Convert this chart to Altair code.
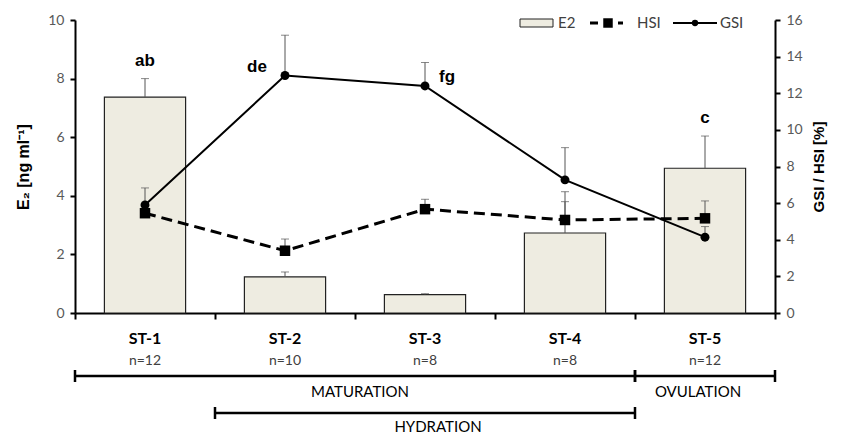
import altair as alt
import pandas as pd

stages = ["ST-1", "ST-2", "ST-3", "ST-4", "ST-5"]
n_labels = ["n=12", "n=10", "n=8", "n=8", "n=12"]
e2 = [7.37, 1.23, 0.63, 2.73, 4.94]
e2_err = [0.63, 0.17, 0.03, 1.41, 1.10]
hsi = [5.45, 3.40, 5.67, 5.08, 5.17]
hsi_err = [0.25, 0.64, 0.54, 1.00, 0.95]
gsi = [5.90, 12.97, 12.40, 7.27, 4.14]
gsi_err = [0.93, 2.20, 1.28, 1.76, 0.58]
letters = ["ab", "de", "fg", "", "c"]

phase_names = ["MATURATION", "OVULATION", "HYDRATION"]
phase_start = ["ST-1", "ST-5", "ST-2"]
phase_end = ["ST-4", "ST-5", "ST-4"]
phase_label_at = ["ST-3", "ST-5", "ST-3"]
phase_row = [0, 0, 1]
legend_labels = ["E2", "HSI", "GSI"]

df = pd.DataFrame({
    "stage": stages, "n": n_labels, "e2": e2, "e2_err": e2_err,
    "hsi": hsi, "hsi_err": hsi_err, "gsi": gsi, "gsi_err": gsi_err,
    "letter": letters,
})
df["e2_hi"] = df["e2"] + df["e2_err"]
df["hsi_hi"] = df["hsi"] + df["hsi_err"]
df["gsi_hi"] = df["gsi"] + df["gsi_err"]

ph = pd.DataFrame({"name": phase_names, "start": phase_start, "end": phase_end,
                   "at": phase_label_at, "row": phase_row})

LABEL_FONT = "Lato"
BOLD_FONT = "Liberation Sans"
GRAY = "#595959"

xscale = alt.Scale(domain=stages, paddingInner=0, paddingOuter=0)
xaxis = alt.Axis(labels=False, title=None, domainColor="black", domainWidth=2,
                 tickColor="black", tickWidth=2, tickSize=6, tickBand="extent", grid=False)
X = alt.X("stage:N", sort=stages, scale=xscale, axis=xaxis)

lscale = alt.Scale(domain=[0, 10])
rscale = alt.Scale(domain=[0, 16])
laxis = alt.Axis(orient="left", values=[0, 2, 4, 6, 8, 10], title="E₂ [ng ml⁻¹]", grid=False,
                 domainColor="black", domainWidth=2, tickColor="black", tickWidth=2,
                 tickSize=5, labelPadding=6, labelColor=GRAY, labelFont=LABEL_FONT,
                 labelFontSize=14, titleFont=BOLD_FONT, titleFontSize=16, titleFontWeight="bold",
                 titleColor="black", titlePadding=16)
raxis = alt.Axis(orient="right", values=[0, 2, 4, 6, 8, 10, 12, 14, 16], title="GSI / HSI  [%]",
                 grid=False, domainColor="black", domainWidth=2, tickColor="black", tickWidth=2,
                 tickSize=5, labelPadding=6, labelColor=GRAY, labelFont=LABEL_FONT,
                 labelFontSize=14, titleFont=BOLD_FONT, titleFontSize=15, titleFontWeight="bold",
                 titleColor="black", titlePadding=24, titleAngle=270)

YL = alt.Y("e2:Q", scale=lscale, axis=laxis)
YR = alt.Y("gsi:Q", scale=rscale, axis=raxis)

base = alt.Chart(df)

# Left (E2) group
bars = base.mark_bar(fill="#EEECE1", stroke="#222222", strokeWidth=1.2,
                     width=alt.RelativeBandSize(0.58)).encode(x=X, y=YL)
e2_rule = base.mark_rule(color="#555555", strokeWidth=1).encode(
    x=X, y=YL, y2="e2_hi:Q")
e2_cap = base.mark_tick(orient="horizontal", size=8, thickness=1, color="#555555").encode(
    x=X, y=alt.Y("e2_hi:Q", scale=lscale, axis=laxis))
e2_letters = base.transform_filter(
    alt.FieldOneOfPredicate(field="stage", oneOf=["ST-1", "ST-5"])
).mark_text(font=BOLD_FONT, fontWeight="bold", fontSize=17, dy=-18, color="black").encode(
    x=X, y=alt.Y("e2_hi:Q", scale=lscale, axis=laxis), text="letter:N")

# Category labels below the axis
st_text = base.mark_text(font=LABEL_FONT, fontWeight="bold", fontSize=16, color="black",
                         baseline="middle").encode(x=X, y=alt.value(319), text="stage:N")
n_text = base.mark_text(font=LABEL_FONT, fontSize=14, color="#404040",
                        baseline="middle").encode(x=X, y=alt.value(341), text="n:N")

# Phase brackets
pbase = alt.Chart(ph)
XS = alt.X("start:N", sort=stages, scale=xscale, bandPosition=0, axis=xaxis)
XE = alt.X("end:N", sort=stages, scale=xscale, bandPosition=1, axis=xaxis)
row_y = {0: 356, 1: 393}
bracket_layers = []
for r, yv in row_y.items():
    sub = pbase.transform_filter(alt.datum.row == r)
    line = sub.mark_rule(color="black", strokeWidth=2.5).encode(
        x=XS, x2=alt.X2("end:N", bandPosition=1), y=alt.value(yv))
    cap_s = sub.mark_rule(color="black", strokeWidth=2.5).encode(
        x=XS, y=alt.value(yv - 6), y2=alt.value(yv + 6))
    cap_e = sub.mark_rule(color="black", strokeWidth=2.5).encode(
        x=XE, y=alt.value(yv - 6), y2=alt.value(yv + 6))
    bracket_layers += [line, cap_s, cap_e]

mat_lbl = pbase.transform_filter(alt.datum.name == "MATURATION").mark_text(
    font=LABEL_FONT, fontSize=15, color="black", dx=5).encode(
    x=alt.X("at:N", sort=stages, scale=xscale, bandPosition=0, axis=xaxis),
    y=alt.value(372), text="name:N")
ovu_lbl = pbase.transform_filter(alt.datum.name == "OVULATION").mark_text(
    font=LABEL_FONT, fontSize=15, color="black", dx=-7).encode(
    x=alt.X("at:N", sort=stages, scale=xscale, bandPosition=0.5, axis=xaxis),
    y=alt.value(372), text="name:N")
hyd_lbl = pbase.transform_filter(alt.datum.name == "HYDRATION").mark_text(
    font=LABEL_FONT, fontSize=15, color="black", dx=13).encode(
    x=alt.X("at:N", sort=stages, scale=xscale, bandPosition=0.5, axis=xaxis),
    y=alt.value(407), text="name:N")

# Legend
leg = alt.Chart(pd.DataFrame({"label": legend_labels}))
leg_e2_box = leg.transform_filter(alt.datum.label == "E2").mark_rect(
    fill="#EEECE1", stroke="#222222", strokeWidth=1).encode(
    x=alt.value(445), x2=alt.value(478), y=alt.value(-1), y2=alt.value(7))
leg_hsi_line = leg.transform_filter(alt.datum.label == "HSI").mark_rule(
    color="black", strokeWidth=3, strokeDash=[8, 6]).encode(
    x=alt.value(515), x2=alt.value(548), y=alt.value(3))
leg_hsi_pt = leg.transform_filter(alt.datum.label == "HSI").mark_point(
    shape="square", filled=True, size=90, color="black", opacity=1).encode(
    x=alt.value(533), y=alt.value(3))
leg_gsi_line = leg.transform_filter(alt.datum.label == "GSI").mark_rule(
    color="black", strokeWidth=2).encode(
    x=alt.value(598), x2=alt.value(642), y=alt.value(3))
leg_gsi_pt = leg.transform_filter(alt.datum.label == "GSI").mark_point(
    shape="circle", filled=True, size=40, color="black", opacity=1).encode(
    x=alt.value(620), y=alt.value(3))
leg_text_e2 = leg.transform_filter(alt.datum.label == "E2").mark_text(
    font=LABEL_FONT, fontSize=15, color="#404040", align="left", baseline="middle").encode(
    x=alt.value(483), y=alt.value(3), text="label:N")
leg_text_hsi = leg.transform_filter(alt.datum.label == "HSI").mark_text(
    font=LABEL_FONT, fontSize=15, color="#404040", align="left", baseline="middle").encode(
    x=alt.value(562), y=alt.value(3), text="label:N")
leg_text_gsi = leg.transform_filter(alt.datum.label == "GSI").mark_text(
    font=LABEL_FONT, fontSize=15, color="#404040", align="left", baseline="middle").encode(
    x=alt.value(645), y=alt.value(3), text="label:N")

left = alt.layer(bars, e2_rule, e2_cap, e2_letters, st_text, n_text, *bracket_layers,
                 mat_lbl, ovu_lbl, hyd_lbl,
                 leg_e2_box, leg_hsi_line, leg_hsi_pt, leg_gsi_line, leg_gsi_pt,
                 leg_text_e2, leg_text_hsi, leg_text_gsi)

# Right (GSI / HSI) group
hsi_rule = base.mark_rule(color="#555555", strokeWidth=1).encode(
    x=X, y=alt.Y("hsi:Q", scale=rscale, axis=raxis), y2="hsi_hi:Q")
hsi_cap = base.mark_tick(orient="horizontal", size=8, thickness=1, color="#555555").encode(
    x=X, y=alt.Y("hsi_hi:Q", scale=rscale, axis=raxis))
gsi_rule = base.mark_rule(color="#555555", strokeWidth=1).encode(
    x=X, y=YR, y2="gsi_hi:Q")
gsi_cap = base.mark_tick(orient="horizontal", size=8, thickness=1, color="#555555").encode(
    x=X, y=alt.Y("gsi_hi:Q", scale=rscale, axis=raxis))
hsi_line = base.mark_line(color="black", strokeWidth=3, strokeDash=[11, 6]).encode(
    x=X, y=alt.Y("hsi:Q", scale=rscale, axis=raxis))
gsi_line = base.mark_line(color="black", strokeWidth=2).encode(x=X, y=YR)
hsi_pts = base.mark_point(shape="square", filled=True, size=110, color="black", opacity=1).encode(
    x=X, y=alt.Y("hsi:Q", scale=rscale, axis=raxis))
gsi_pts = base.mark_point(shape="circle", filled=True, size=80, color="black", opacity=1).encode(
    x=X, y=YR)
de_letter = base.transform_filter(alt.datum.stage == "ST-2").mark_text(
    font=BOLD_FONT, fontWeight="bold", fontSize=17, dx=-28, dy=-8, color="black").encode(
    x=X, y=YR, text="letter:N")
fg_letter = base.transform_filter(alt.datum.stage == "ST-3").mark_text(
    font=BOLD_FONT, fontWeight="bold", fontSize=17, dx=22, dy=-9, color="black").encode(
    x=X, y=YR, text="letter:N")
right = alt.layer(hsi_rule, hsi_cap, gsi_rule, gsi_cap, hsi_line, gsi_line,
                  hsi_pts, gsi_pts, de_letter, fg_letter)

chart = alt.layer(left, right).resolve_scale(y="independent").properties(
    width=700, height=293,
    padding={"left": 67, "top": 12, "right": 59, "bottom": 121},
    autosize=alt.AutoSizeParams(type="none"),
).configure_view(stroke=None)

chart.save("out.html", embed_options={"renderer": "svg", "actions": False})
